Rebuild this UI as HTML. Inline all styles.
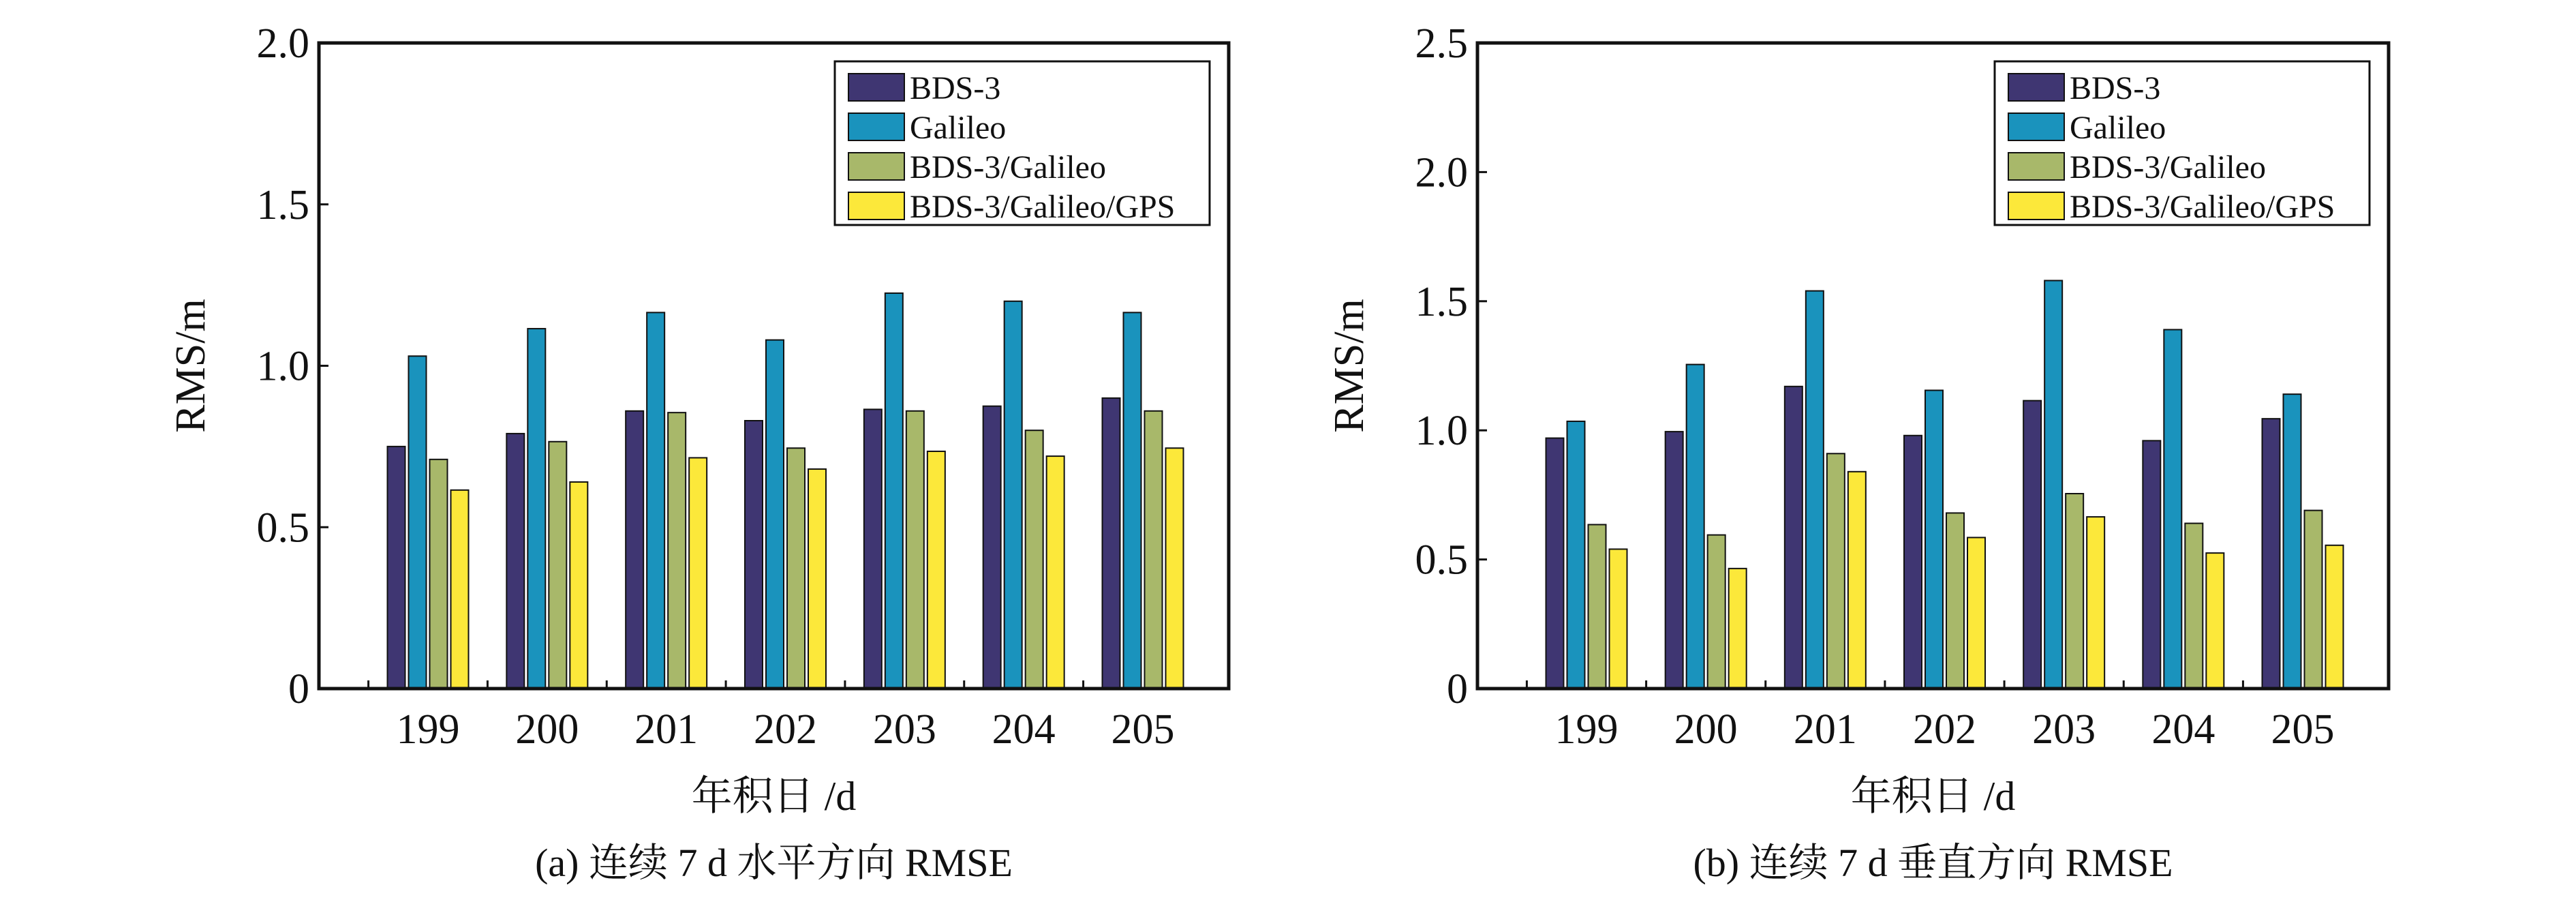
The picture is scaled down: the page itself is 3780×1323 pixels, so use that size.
<!DOCTYPE html>
<html><head><meta charset="utf-8"><style>
html,body{margin:0;padding:0;background:#fff;}
svg{display:block;}
text{font-family:"Liberation Serif","Noto Serif CJK SC",serif;fill:#111;}
</style></head><body>
<svg id="chart" width="3780" height="1323" viewBox="0 0 3780 1323" xmlns="http://www.w3.org/2000/svg"></svg>
<script>
const categories = ["199","200","201","202","203","204","205"];
const seriesNames = ["BDS-3","Galileo","BDS-3/Galileo","BDS-3/Galileo/GPS"];
const colors = ["#3f3672","#1a93bd","#a8b86a","#fce83a"];
const hBDS = [0.75,0.79,0.86,0.83,0.865,0.875,0.90];
const hGal = [1.03,1.115,1.165,1.08,1.225,1.20,1.165];
const hBG = [0.71,0.765,0.855,0.745,0.86,0.80,0.86];
const hBGG = [0.615,0.64,0.715,0.68,0.735,0.72,0.745];
const vBDS = [0.97,0.995,1.17,0.98,1.115,0.96,1.045];
const vGal = [1.035,1.255,1.54,1.155,1.58,1.39,1.14];
const vBG = [0.635,0.595,0.91,0.68,0.755,0.64,0.69];
const vBGG = [0.54,0.465,0.84,0.585,0.665,0.525,0.555];
const hTicks = ["0","0.5","1.0","1.5","2.0"];
const vTicks = ["0","0.5","1.0","1.5","2.0","2.5"];

const NS="http://www.w3.org/2000/svg";
const svg=document.getElementById('chart');
function mk(tag,attrs,parent){const e=document.createElementNS(NS,tag);for(const k in attrs)e.setAttribute(k,attrs[k]);(parent||svg).appendChild(e);return e;}

function drawPanel(id,x0,x1,yTop,yBot,ymax,ticks,series,caption){
  const g=mk('g',{});
  
  
  const ys=v=>yBot-(v/ymax)*(yBot-yTop);
  const cx0=x0+160, step=(x1-x0-160-126)/6;
  const xs=i=>cx0+i*step;
  const bw=26, gap=31;
  series.forEach((arr,s)=>{
    arr.forEach((v,i)=>{
      const cx=xs(i)+(s-1.5)*gap;
      const r=mk('rect',{x:cx-bw/2,y:ys(v),width:bw,height:yBot-ys(v),fill:colors[s],stroke:'#111','stroke-width':2},g);
      
      
    });
  });
  const f=mk('rect',{x:x0,y:yTop,width:x1-x0,height:yBot-yTop,fill:'none',stroke:'#111','stroke-width':5},g);
  
  
  ticks.forEach(t=>{
    const y=ys(parseFloat(t));
    mk('line',{x1:x0,x2:x0+14,y1:y,y2:y,stroke:'#111','stroke-width':3},g);
    const tx=mk('text',{x:x0-14,y:y+21,'text-anchor':'end','font-size':62},g);
    tx.textContent=t;
    
    
  });
  categories.forEach((c,i)=>{
    mk('line',{x1:xs(i)-step/2,x2:xs(i)-step/2,y1:yBot,y2:yBot-12,stroke:'#111','stroke-width':3},g);
    const tx=mk('text',{x:xs(i),y:yBot+80,'text-anchor':'middle','font-size':62},g);
    tx.textContent=c;
    
    
  });
  const yl=mk('text',{x:0,y:0,'text-anchor':'middle','font-size':62,transform:`translate(${x0-168},${(yTop+yBot)/2}) rotate(-90)`},g);
  yl.textContent='RMS/m';
  
  
  const xl=mk('text',{x:(x0+x1)/2,y:1188,'text-anchor':'middle','font-size':60},g);
  xl.textContent='年积日 /d';
  
  
  const cp=mk('text',{x:(x0+x1)/2,y:1285,'text-anchor':'middle','font-size':58},g);
  cp.textContent=caption;
  
  
  const lx=x1-578, ly=yTop+27;
  const lg=mk('g',{},g);
  
  
  mk('rect',{x:lx,y:ly,width:550,height:240,fill:'#fff',stroke:'#111','stroke-width':3},lg);
  seriesNames.forEach((n,s)=>{
    const yy=ly+18+s*58;
    mk('rect',{x:lx+20,y:yy,width:82,height:40,fill:colors[s],stroke:'#111','stroke-width':2},lg);
    const t=mk('text',{x:lx+110,y:yy+37,'font-size':48,textLength:n.length*22.5>420?420:undefined},lg);
    t.textContent=n;
    
    
  });
}
drawPanel('horizontal',468,1803,63,1010,2.0,hTicks,[hBDS,hGal,hBG,hBGG],'(a) 连续 7 d 水平方向 RMSE');
drawPanel('vertical',2168,3505,63,1010,2.5,vTicks,[vBDS,vGal,vBG,vBGG],'(b) 连续 7 d 垂直方向 RMSE');
</script>
</body></html>
